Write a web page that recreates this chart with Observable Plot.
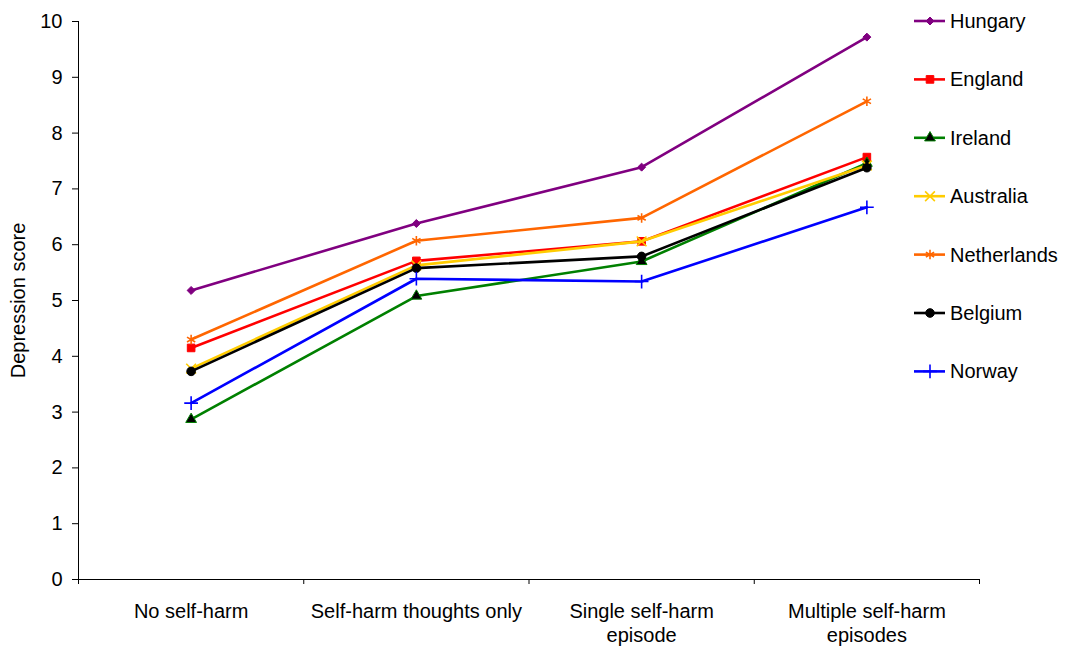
<!DOCTYPE html>
<html><head><meta charset="utf-8">
<script src="https://cdn.jsdelivr.net/npm/d3@7"></script>
<script src="https://cdn.jsdelivr.net/npm/@observablehq/plot@0.6"></script>
<style>body{margin:0;background:#fff;} #chart{position:relative;width:1067px;height:650px;}</style>
</head><body><div id="chart"></div>
<script>
const categories = ["No self-harm", "Self-harm thoughts only", "Single self-harm\nepisode", "Multiple self-harm\nepisodes"];
const countries = ["Hungary", "England", "Ireland", "Australia", "Netherlands", "Belgium", "Norway"];
const hungary     = [5.18, 6.38, 7.39, 9.72];
const england     = [4.15, 5.71, 6.06, 7.57];
const ireland     = [2.87, 5.08, 5.70, 7.46];
const australia   = [3.78, 5.63, 6.06, 7.42];
const netherlands = [4.30, 6.07, 6.48, 8.57];
const belgium     = [3.73, 5.58, 5.79, 7.38];
const norway      = [3.16, 5.39, 5.34, 6.67];
const yTicks = [0, 1, 2, 3, 4, 5, 6, 7, 8, 9, 10];

const seriesValues = {Hungary: hungary, England: england, Ireland: ireland, Australia: australia, Netherlands: netherlands, Belgium: belgium, Norway: norway};
const styles = {
  Hungary:     {color: "#800080", symbol: "diamond2", fill: "#800080", stroke: "#800080", r: 3.6, sw: 1},
  England:     {color: "#FF0000", symbol: "square",   fill: "#FF0000", stroke: "#FF0000", r: 4.3, sw: 1},
  Ireland:     {color: "#008000", symbol: "triangle", fill: "#000000", stroke: "#008000", r: 4.0, sw: 1},
  Australia:   {color: "#FFCC00", symbol: "times",    fill: "none",    stroke: "#FFCC00", r: 4.5, sw: 1.6},
  Netherlands: {color: "#FF6600", symbol: "asterisk", fill: "none",    stroke: "#FF6600", r: 4.5, sw: 1.6},
  Belgium:     {color: "#000000", symbol: "circle",   fill: "#000000", stroke: "#000000", r: 4.3, sw: 1},
  Norway:      {color: "#0000FF", symbol: "plus",     fill: "none",    stroke: "#0000FF", r: 4.5, sw: 1.6}
};

const catRows = categories.map((label, i) => ({x: i + 0.5, label}));
const boundaries = d3.range(categories.length + 1);

const seriesMarks = countries.flatMap(c => {
  const rows = seriesValues[c].map((v, i) => ({x: i + 0.5, value: v}));
  const s = styles[c];
  return [
    Plot.line(rows, {x: "x", y: "value", stroke: s.color, strokeWidth: 2.6}),
    Plot.dot(rows, {x: "x", y: "value", symbol: s.symbol, r: s.r, fill: s.fill, stroke: s.stroke, strokeWidth: s.sw})
  ];
});

const plot = Plot.plot({
  width: 1067, height: 650,
  marginLeft: 78, marginRight: 88, marginTop: 21, marginBottom: 71,
  style: {fontFamily: "'Liberation Sans', Arial, sans-serif", fontSize: "20px", color: "#000", background: "#fff"},
  x: {domain: [0, categories.length], axis: null},
  y: {domain: [0, 10], axis: null},
  marks: [
    Plot.axisY({ticks: yTicks, tickSize: 6, tickPadding: 10, fontSize: 20, label: "Depression score", labelAnchor: "center", labelArrow: "none", labelOffset: 68}),
    Plot.axisX({ticks: boundaries, tickSize: 5, tickFormat: () => "", label: null}),
    Plot.ruleX([0], {stroke: "#000"}),
    Plot.ruleY([0], {stroke: "#000"}),
    Plot.text(catRows, {x: "x", y: () => 0, text: "label", lineAnchor: "top", dy: 21, fontSize: 20, lineHeight: 1.2}),
    ...seriesMarks
  ]
});
document.getElementById("chart").appendChild(plot);

// legend
const svg = d3.select(plot);
const symMap = {diamond2: d3.symbolDiamond2, square: d3.symbolSquare, triangle: d3.symbolTriangle, times: d3.symbolTimes, asterisk: d3.symbolAsterisk, circle: d3.symbolCircle, plus: d3.symbolPlus};
const lg = svg.append("g").attr("font-family", "'Liberation Sans', Arial, sans-serif").attr("font-size", 20).attr("text-anchor", "start");
countries.forEach((c, i) => {
  const s = styles[c];
  const g = lg.append("g").attr("transform", `translate(0,${21 + i * 58.4})`);
  g.append("line").attr("x1", 914).attr("x2", 945).attr("y1", 0).attr("y2", 0).attr("stroke", s.color).attr("stroke-width", 2.6);
  g.append("path").attr("transform", "translate(930,0)")
    .attr("d", d3.symbol().type(symMap[s.symbol]).size(Math.PI * s.r * s.r)())
    .attr("fill", s.fill).attr("stroke", s.stroke).attr("stroke-width", s.sw);
  g.append("text").attr("x", 950).attr("y", 0).attr("dy", "0.35em").attr("text-anchor", "start").attr("fill", "#000").text(c);
});
</script>
</body></html>
